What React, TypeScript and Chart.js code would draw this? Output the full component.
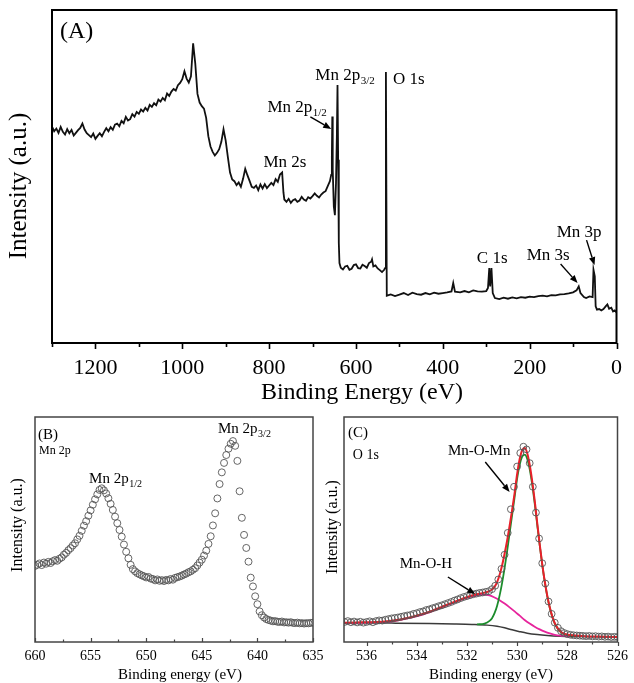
import React, { useEffect, useRef } from "react";
import { Chart, registerables } from "chart.js";

Chart.register(...registerables);

const SERIF = '"Liberation Serif", "Times New Roman", Times, serif';

// ---------- Panel A: survey spectrum ----------
const surveyEnergy = [
  1300, 1295, 1290, 1285, 1280, 1275, 1270, 1265, 1260, 1255,
  1250, 1245, 1240, 1235, 1230, 1225, 1220, 1215, 1210, 1205,
  1200, 1195, 1190, 1185, 1180, 1175, 1170, 1165, 1160, 1155,
  1150, 1145, 1140, 1135, 1130, 1125, 1120, 1115, 1110, 1105,
  1100, 1095, 1090, 1085, 1080, 1075, 1070, 1065, 1060, 1055,
  1050, 1045, 1040, 1035, 1030, 1025, 1020, 1015, 1010, 1005,
  1000, 995, 990, 985, 980, 975, 970, 965, 960, 955,
  950, 945, 940, 935, 930, 925, 920, 915, 910, 905,
  900, 895, 890, 885, 880, 875, 870, 865, 860, 855,
  850, 845, 840, 835, 830, 825, 820, 815, 810, 805,
  800, 795, 790, 785, 780, 775, 770, 767, 765, 760,
  755, 750, 745, 740, 735, 730, 725, 720, 715, 710,
  705, 700, 695, 690, 685, 680, 675, 670, 665, 660,
  657, 655.5, 654.5, 653.5, 651, 648.5, 646, 644, 642.5, 641,
  639.5, 638, 635, 630, 625, 620, 615, 610, 605, 600,
  595, 590, 585, 580, 575, 570, 565, 563, 560, 555,
  550, 545, 540, 535, 533, 531, 529, 525, 520, 510,
  500, 490, 480, 470, 460, 450, 440, 430, 420, 410,
  400, 390, 380, 376, 372, 360, 350, 340, 330, 320,
  310, 300, 296, 293, 291, 288, 285, 280, 270, 260,
  250, 240, 230, 220, 210, 200, 190, 180, 170, 160,
  150, 140, 130, 120, 110, 100, 92, 87, 83, 75,
  70, 62, 55, 53, 50, 48, 45, 40, 35, 30,
  25, 21, 17, 12, 8, 4, 0,
];
const surveyIntensity = [
  65.0, 63.6, 64.4, 63.1, 64.9, 63.4, 62.6, 64.2, 63.0, 64.0,
  62.3, 63.1, 63.9, 64.6, 65.9, 64.1, 63.0, 62.4, 61.8, 62.9,
  61.3, 62.2, 63.0, 62.1, 63.4, 64.5, 63.6, 64.8, 64.0, 65.6,
  65.9, 65.1, 66.7, 66.0, 67.9, 66.8, 67.2, 68.7, 68.0, 69.4,
  68.8, 70.1, 69.5, 70.6, 69.8, 71.5, 70.9, 72.0, 71.4, 73.1,
  72.5, 73.6, 72.9, 74.9, 74.2, 75.5, 76.3, 75.8, 77.4, 78.1,
  79.2, 81.6, 79.4, 78.2, 80.1, 90.0, 83.8, 74.8, 72.2, 71.1,
  70.4, 67.6, 62.1, 59.0, 57.4, 56.3, 57.1, 58.2, 60.4, 64.2,
  60.8, 55.8, 51.2, 49.1, 48.6, 47.4, 48.2, 46.9, 49.3, 52.3,
  50.4, 48.7, 46.9, 46.6, 47.3, 45.9, 47.6, 46.4, 47.7, 46.5,
  47.3, 48.1, 47.4, 49.2, 48.4, 50.6, 51.2, 45.2, 43.1, 42.4,
  43.3, 42.1, 42.9, 43.2, 42.4, 42.8, 43.9, 43.1, 42.7, 43.8,
  43.4, 44.1, 44.9, 44.2, 43.7, 44.6, 45.2, 45.6, 47.1, 48.6,
  50.5, 56.0, 68.0, 52.0, 41.0, 38.4, 48.0, 62.0, 77.5, 55.0,
  30.0, 24.0, 22.6, 22.1, 23.0, 23.2, 22.0, 22.3, 23.4, 23.6,
  22.5, 22.4, 23.5, 23.1, 22.6, 24.0, 24.4, 25.1, 23.0, 23.3,
  22.4, 21.9, 21.3, 22.0, 22.5, 81.4, 14.2, 14.4, 14.6, 14.1,
  14.5, 15.0, 14.4, 15.1, 14.7, 14.5, 15.0, 14.6, 15.1, 14.8,
  15.0, 15.2, 15.5, 18.0, 15.4, 15.2, 15.6, 15.2, 15.8, 15.5,
  15.4, 15.6, 16.5, 22.5, 17.0, 22.5, 15.0, 13.5, 13.2, 13.6,
  13.3, 13.7, 13.4, 13.8, 13.6, 13.9, 13.8, 14.1, 14.2, 14.0,
  14.4, 14.3, 14.6, 14.7, 14.9, 15.2, 15.8, 17.0, 15.0, 13.8,
  13.5, 14.0, 13.8, 22.0, 20.0, 11.0, 10.0, 10.2, 9.8, 10.2,
  11.0, 11.6, 10.3, 10.6, 9.5, 9.8, 9.2,
];
const surveyTickLabels = [1200, 1000, 800, 600, 400, 200, 0];
const surveyMinorTicks = [1300, 1100, 900, 700, 500, 300, 100];

// ---------- Panel B: Mn 2p ----------
const mn2pStartEnergy = 660.0;
const mn2pEnergyStep = 0.2;
const mn2pIntensity = [
  33.8, 34.3, 34.9, 34.2, 35.3, 34.8, 35.6, 35.1, 35.9, 36.4,
  36.1, 37.0, 37.6, 38.8, 39.6, 40.8, 41.7, 42.9, 43.9, 45.6,
  47.2, 49.4, 51.7, 53.7, 56.1, 58.5, 61.0, 63.4, 65.6, 67.6,
  68.3, 67.4, 66.0, 63.9, 61.4, 58.7, 55.7, 52.8, 49.8, 46.8,
  43.3, 40.1, 37.2, 34.3, 32.4, 31.4, 30.6, 30.1, 29.6, 29.2,
  28.7, 28.9, 28.2, 28.0, 27.4, 27.8, 27.2, 27.5, 27.1, 27.6,
  27.4, 28.0, 27.7, 28.5, 28.8, 29.1, 29.5, 30.0, 30.4, 31.0,
  31.4, 32.1, 32.8, 34.0, 35.3, 36.6, 38.4, 40.6, 43.6, 47.0,
  51.8, 57.2, 63.8, 70.2, 75.4, 79.6, 83.1, 85.9, 88.1, 89.3,
  87.2, 80.5, 67.0, 55.2, 47.6, 41.8, 35.7, 28.6, 24.7, 20.3,
  16.8, 13.6, 11.9, 10.9, 10.2, 9.8, 9.5, 9.2, 9.3, 9.0,
  8.9, 9.1, 8.7, 8.8, 8.6, 8.8, 8.5, 8.4, 8.6, 8.3,
  8.4, 8.2, 8.4, 8.3, 8.5, 8.6,
];
const mn2pTickLabels = [660, 655, 650, 645, 640, 635];
const mn2pMinorTicks = [657.5, 652.5, 647.5, 642.5, 637.5];

// ---------- Panel C: O 1s ----------
const o1sStartEnergy = 536.875;
const o1sEnergyStep = 0.125;
const o1sIntensity = [
  8.9, 9.3, 8.8, 9.1, 8.7, 9.0, 8.6, 8.9, 9.2, 8.8,
  9.3, 9.6, 9.5, 9.9, 10.2, 10.5, 10.7, 10.9, 11.2, 11.5,
  11.8, 12.0, 12.5, 12.8, 13.3, 13.6, 14.2, 14.5, 15.0, 15.4,
  15.9, 16.3, 16.8, 17.3, 17.8, 18.4, 18.9, 19.5, 20.0, 20.4,
  20.8, 21.2, 21.5, 21.8, 22.0, 22.3, 22.6, 23.5, 25.0, 27.8,
  32.5, 38.8, 48.5, 59.0, 69.0, 78.0, 84.0, 86.8, 85.6, 79.5,
  69.0, 57.5, 46.0, 35.0, 26.0, 18.0, 12.5, 8.6, 6.3, 4.8,
  4.0, 3.5, 3.2, 3.0, 2.9, 2.8, 2.7, 2.6, 2.7, 2.5,
  2.6, 2.4, 2.5, 2.3, 2.4, 2.2, 2.3, 2.2,
];
const o1sFitEnergy = [
  536.9, 536.4, 535.9, 535.4, 535.0, 534.6, 534.2, 533.8, 533.4, 533.0,
  532.6, 532.2, 531.8, 531.5, 531.2, 531.0, 530.9, 530.8, 530.7, 530.6,
  530.5, 530.4, 530.3, 530.2, 530.1, 530.0, 529.9, 529.8, 529.7, 529.6,
  529.5, 529.4, 529.3, 529.2, 529.1, 529.0, 528.9, 528.8, 528.7, 528.6,
  528.5, 528.4, 528.3, 528.2, 528.0, 527.7, 527.3, 526.8, 526.4, 526.0,
];
const o1sFitTotal = [
  8.6, 8.7, 8.8, 9.0, 9.4, 10.1, 11.1, 12.3, 13.8, 15.6,
  17.4, 19.1, 20.7, 21.5, 22.2, 23.3, 24.5, 26.6, 29.8, 34.0,
  39.2, 45.0, 51.6, 58.6, 66.2, 74.6, 81.2, 85.2, 86.2, 84.0,
  78.8, 71.5, 62.8, 53.0, 43.4, 34.6, 27.0, 20.6, 15.4, 11.4,
  8.4, 6.4, 5.0, 4.1, 3.3, 2.9, 2.6, 2.4, 2.3, 2.2,
];
const mnOMnEnergy = [
  531.6, 531.3, 531.1, 531.0, 530.9, 530.8, 530.7, 530.6, 530.5, 530.4,
  530.3, 530.2, 530.1, 530.0, 529.9, 529.8, 529.7, 529.6, 529.5, 529.4,
  529.3, 529.2, 529.1, 529.0, 528.9, 528.8, 528.7, 528.6, 528.5, 528.4,
  528.3, 528.2, 528.0, 527.7,
];
const mnOMnIntensity = [
  7.8, 8.2, 9.4, 10.6, 12.8, 16.0, 20.6, 26.2, 32.8, 40.3,
  48.4, 56.4, 64.4, 72.6, 78.8, 82.4, 83.3, 81.5, 76.8, 70.0,
  61.6, 52.2, 43.0, 34.4, 26.8, 20.4, 15.2, 11.2, 8.2, 6.2,
  4.8, 3.9, 3.1, 2.8,
];
const mnOHEnergy = [
  536.9, 536.0, 535.4, 535.0, 534.6, 534.2, 533.8, 533.4, 533.0, 532.6,
  532.2, 531.8, 531.5, 531.3, 531.1, 530.9, 530.7, 530.5, 530.3, 530.1,
  529.9, 529.7, 529.5, 529.3, 529.1, 528.9, 528.7, 528.5, 528.3, 528.1,
  527.9,
];
const mnOHIntensity = [
  8.5, 8.6, 8.8, 9.2, 9.9, 10.9, 12.1, 13.6, 15.4, 17.2,
  18.9, 20.3, 20.9, 21.1, 20.7, 19.8, 18.6, 17.1, 15.4, 13.6,
  11.7, 9.8, 8.2, 6.8, 5.6, 4.6, 3.8, 3.2, 2.8, 2.6,
  2.5,
];
const backgroundEnergy = [
  536.9, 535.0, 533.5, 532.5, 531.8, 531.2, 530.8, 530.5, 530.2, 529.9,
  529.6, 529.2, 528.8, 528.3, 527.5, 526.0,
];
const backgroundIntensity = [
  8.6, 8.4, 8.2, 8.0, 7.8, 7.5, 7.0, 6.3, 5.4, 4.6,
  3.9, 3.3, 2.9, 2.6, 2.4, 2.2,
];
const o1sTickLabels = [536, 534, 532, 530, 528, 526];
const o1sMinorTicks = [535, 533, 531, 529, 527];

// ---------- drawing helpers ----------
type TextItem = { text: string; sub?: string; x: number; y: number; size: number };
type ArrowItem = { x1: number; y1: number; x2: number; y2: number };
type TitleItem = { text: string; x: number; y: number; size: number; rotate?: boolean };
interface Decor {
  boxColor: string;
  boxWidth: number;
  major: number[];
  minor: number[];
  majorLen: number;
  minorLen: number;
  tickDir: number;
  tickColor: string;
  tickWidth: number;
  texts: TextItem[];
  arrows: ArrowItem[];
  titles: TitleItem[];
}

function makeDecor(d: Decor) {
  return {
    id: "decor",
    afterDraw(chart: any) {
      const { ctx, chartArea: ca, scales } = chart;
      const xs = scales.x;
      const ys = scales.y;
      ctx.save();
      // ticks
      ctx.strokeStyle = d.tickColor;
      ctx.lineWidth = d.tickWidth;
      const tick = (v: number, len: number) => {
        const px = Math.round(xs.getPixelForValue(v)) + 0.5;
        ctx.beginPath();
        ctx.moveTo(px, ca.bottom);
        ctx.lineTo(px, ca.bottom + d.tickDir * len);
        ctx.stroke();
      };
      d.major.forEach((v) => tick(v, d.majorLen));
      d.minor.forEach((v) => tick(v, d.minorLen));
      // frame
      ctx.strokeStyle = d.boxColor;
      ctx.lineWidth = d.boxWidth;
      ctx.strokeRect(ca.left, ca.top, ca.right - ca.left, ca.bottom - ca.top);
      // texts
      ctx.fillStyle = "#000";
      ctx.textAlign = "left";
      ctx.textBaseline = "alphabetic";
      d.texts.forEach((t) => {
        const x = xs.getPixelForValue(t.x);
        const y = ys.getPixelForValue(t.y);
        ctx.font = `${t.size}px ${SERIF}`;
        ctx.fillText(t.text, x, y);
        if (t.sub) {
          const w = ctx.measureText(t.text).width;
          ctx.font = `${Math.round(t.size * 0.65)}px ${SERIF}`;
          ctx.fillText(t.sub, x + w + 0.5, y + t.size * 0.24);
        }
      });
      // arrows
      ctx.strokeStyle = "#000";
      ctx.fillStyle = "#000";
      ctx.lineWidth = 1.4;
      d.arrows.forEach((a) => {
        const x1 = xs.getPixelForValue(a.x1);
        const y1 = ys.getPixelForValue(a.y1);
        const x2 = xs.getPixelForValue(a.x2);
        const y2 = ys.getPixelForValue(a.y2);
        const ang = Math.atan2(y2 - y1, x2 - x1);
        const head = 8;
        const hw = 3.2;
        const bx = x2 - Math.cos(ang) * head;
        const by = y2 - Math.sin(ang) * head;
        ctx.beginPath();
        ctx.moveTo(x1, y1);
        ctx.lineTo(bx, by);
        ctx.stroke();
        ctx.beginPath();
        ctx.moveTo(x2, y2);
        ctx.lineTo(bx + Math.sin(ang) * hw, by - Math.cos(ang) * hw);
        ctx.lineTo(bx - Math.sin(ang) * hw, by + Math.cos(ang) * hw);
        ctx.closePath();
        ctx.fill();
      });
      // axis titles
      ctx.fillStyle = "#000";
      ctx.textAlign = "center";
      ctx.textBaseline = "middle";
      d.titles.forEach((t) => {
        ctx.save();
        ctx.font = `${t.size}px ${SERIF}`;
        ctx.translate(t.x, t.y);
        if (t.rotate) ctx.rotate(-Math.PI / 2);
        ctx.fillText(t.text, 0, 0);
        ctx.restore();
      });
      ctx.restore();
    },
  };
}

function xAxis(min: number, max: number, labels: number[], size: number, pad: number, height: number) {
  return {
    type: "linear",
    min,
    max,
    reverse: true,
    grid: { display: false, drawTicks: false },
    border: { display: false },
    afterBuildTicks: (s: any) => {
      s.ticks = labels.map((v) => ({ value: v }));
    },
    ticks: {
      autoSkip: false,
      maxRotation: 0,
      minRotation: 0,
      padding: pad,
      color: "#000",
      font: { family: SERIF, size },
      callback: (v: number) => String(v),
    },
    afterFit: (s: any) => {
      s.height = height;
    },
  };
}

function baseOptions(padding: any, x: any) {
  return {
    responsive: false,
    animation: false,
    devicePixelRatio: 1,
    events: [],
    layout: { padding },
    plugins: { legend: { display: false }, tooltip: { enabled: false } },
    scales: { x, y: { display: false, min: 0, max: 100 } },
  };
}

function configA() {
  return {
    type: "line",
    data: {
      datasets: [
        {
          data: surveyEnergy.map((e, i) => ({ x: e, y: surveyIntensity[i] })),
          borderColor: "#111",
          borderWidth: 1.8,
          pointRadius: 0,
          tension: 0,
        },
      ],
    },
    options: baseOptions(
      { left: 52, top: 10, right: 16, bottom: 0 },
      xAxis(0, 1300, surveyTickLabels, 22, 12, 67)
    ),
    plugins: [
      makeDecor({
        boxColor: "#000",
        boxWidth: 2,
        major: surveyTickLabels,
        minor: surveyMinorTicks,
        majorLen: 6,
        minorLen: 4,
        tickDir: 1,
        tickColor: "#000",
        tickWidth: 1.6,
        texts: [
          { text: "(A)", x: 1281.6, y: 91.6, size: 24 },
          { text: "Mn 2p", sub: "3/2", x: 693.7, y: 79, size: 17 },
          { text: "O 1s", x: 514.5, y: 77.8, size: 17 },
          { text: "Mn 2p", sub: "1/2", x: 804, y: 69.4, size: 17 },
          { text: "Mn 2s", x: 813, y: 52.9, size: 17 },
          { text: "C 1s", x: 321.6, y: 24, size: 17 },
          { text: "Mn 3s", x: 206.8, y: 24.9, size: 17 },
          { text: "Mn 3p", x: 137.8, y: 31.8, size: 17 },
        ],
        arrows: [
          { x1: 705, y1: 67.9, x2: 657, y2: 64.3 },
          { x1: 128.7, y1: 23.7, x2: 89.6, y2: 18 },
          { x1: 69, y1: 30.9, x2: 50.6, y2: 23.4 },
        ],
        titles: [
          { text: "Binding Energy (eV)", x: 362, y: 393, size: 24 },
          { text: "Intensity (a.u.)", x: 19, y: 186, size: 25, rotate: true },
        ],
      }),
    ],
  };
}

function configB() {
  return {
    type: "scatter",
    data: {
      datasets: [
        {
          data: mn2pIntensity.map((v, i) => ({ x: mn2pStartEnergy - i * mn2pEnergyStep, y: v })),
          showLine: false,
          pointRadius: 3.5,
          pointBorderWidth: 0.9,
          pointBorderColor: "#555",
          pointBackgroundColor: "rgba(0,0,0,0)",
        },
      ],
    },
    options: baseOptions(
      { left: 35, top: 17, right: 21, bottom: 0 },
      xAxis(635, 660, mn2pTickLabels, 14, 6, 41)
    ),
    plugins: [
      makeDecor({
        boxColor: "#444",
        boxWidth: 1.5,
        major: mn2pTickLabels,
        minor: mn2pMinorTicks,
        majorLen: 4,
        minorLen: 2.5,
        tickDir: -1,
        tickColor: "#444",
        tickWidth: 1.2,
        texts: [
          { text: "(B)", x: 659.73, y: 90.2, size: 15 },
          { text: "Mn 2p", x: 659.64, y: 83.6, size: 12 },
          { text: "Mn 2p", sub: "1/2", x: 655.14, y: 70.7, size: 15 },
          { text: "Mn 2p", sub: "3/2", x: 643.54, y: 92.9, size: 15 },
        ],
        arrows: [],
        titles: [
          { text: "Binding energy (eV)", x: 180, y: 275, size: 15 },
          { text: "Intensity (a.u.)", x: 18, y: 125, size: 16, rotate: true },
        ],
      }),
    ],
  };
}

function configC() {
  const line = (xs: number[], ys: number[], color: string, width: number) => ({
    type: "line",
    data: xs.map((e, i) => ({ x: e, y: ys[i] })),
    borderColor: color,
    borderWidth: width,
    pointRadius: 0,
    cubicInterpolationMode: "monotone",
    showLine: true,
  });
  return {
    type: "scatter",
    data: {
      datasets: [
        {
          data: o1sIntensity.map((v, i) => ({ x: o1sStartEnergy - i * o1sEnergyStep, y: v })),
          showLine: false,
          pointRadius: 3.4,
          pointBorderWidth: 0.9,
          pointBorderColor: "#555",
          pointBackgroundColor: "rgba(0,0,0,0)",
        },
        line(o1sFitEnergy, o1sFitTotal, "#e8202a", 2),
        line(mnOMnEnergy, mnOMnIntensity, "#1c8c2c", 1.8),
        line(mnOHEnergy, mnOHIntensity, "#e6259c", 1.8),
        line(backgroundEnergy, backgroundIntensity, "#3a3a3a", 1.5),
      ],
    },
    options: baseOptions(
      { left: 28, top: 17, right: 11, bottom: 0 },
      xAxis(526, 536.9, o1sTickLabels, 14, 6, 41)
    ),
    plugins: [
      makeDecor({
        boxColor: "#444",
        boxWidth: 1.5,
        major: o1sTickLabels,
        minor: o1sMinorTicks,
        majorLen: 4,
        minorLen: 2.5,
        tickDir: 1,
        tickColor: "#444",
        tickWidth: 1.2,
        texts: [
          { text: "(C)", x: 536.74, y: 91.1, size: 15 },
          { text: "O 1s", x: 536.55, y: 81.3, size: 14 },
          { text: "Mn-O-Mn", x: 532.76, y: 83.1, size: 15 },
          { text: "Mn-O-H", x: 534.68, y: 32.9, size: 15 },
        ],
        arrows: [
          { x1: 531.27, y1: 80, x2: 530.3, y2: 66.7 },
          { x1: 532.76, y1: 28.9, x2: 531.67, y2: 21.3 },
        ],
        titles: [
          { text: "Binding energy (eV)", x: 175, y: 275, size: 15 },
          { text: "Intensity (a.u.)", x: 17, y: 127, size: 16, rotate: true },
        ],
      }),
    ],
  };
}

function Panel(props: { left: number; top: number; width: number; height: number; build: () => any }) {
  const ref = useRef<HTMLCanvasElement>(null);
  useEffect(() => {
    const chart = new Chart(ref.current as HTMLCanvasElement, props.build());
    return () => chart.destroy();
  }, []);
  return (
    <canvas
      ref={ref}
      width={props.width}
      height={props.height}
      style={{ position: "absolute", left: props.left, top: props.top, width: props.width, height: props.height }}
    />
  );
}

export default function App() {
  return (
    <div style={{ position: "absolute", left: 0, top: 0, width: 634, height: 683, background: "#fff", overflow: "hidden" }}>
      <Panel left={0} top={0} width={634} height={410} build={configA} />
      <Panel left={0} top={400} width={334} height={283} build={configB} />
      <Panel left={316} top={400} width={318} height={283} build={configC} />
    </div>
  );
}
